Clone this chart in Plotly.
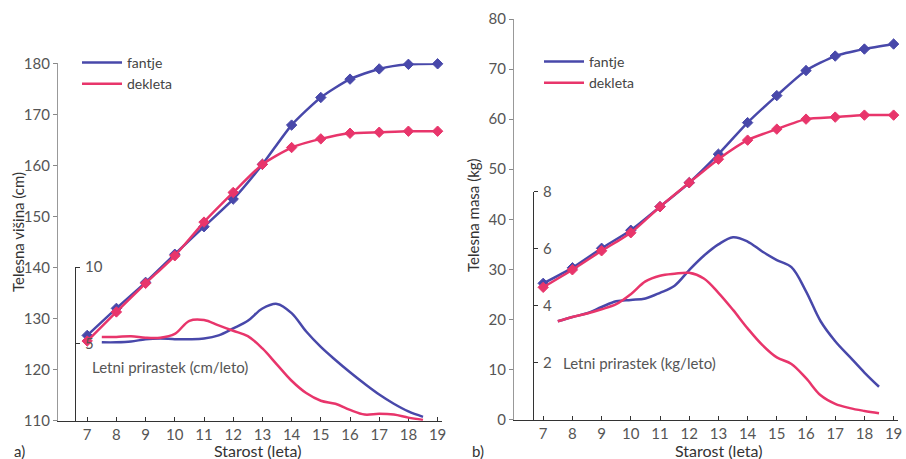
import plotly.graph_objects as go

# ---------------- data ----------------
ages = [7, 8, 9, 10, 11, 12, 13, 14, 15, 16, 17, 18, 19]
boys_height = [126.7, 132.0, 137.1, 142.6, 148.0, 153.4, 160.2, 167.9, 173.3, 176.9, 178.9, 179.8, 179.9]
girls_height = [125.6, 131.3, 136.9, 142.3, 148.9, 154.7, 160.2, 163.5, 165.2, 166.3, 166.5, 166.7, 166.7]
boys_weight = [27.2, 30.3, 34.2, 37.8, 42.5, 47.3, 53.0, 59.3, 64.7, 69.7, 72.6, 74.0, 75.0]
girls_weight = [26.4, 29.9, 33.7, 37.3, 42.5, 47.3, 52.0, 55.8, 58.0, 60.0, 60.4, 60.8, 60.8]

growth_ages = [7.5, 8, 8.5, 9, 9.5, 10, 10.5, 11, 11.5, 12, 12.5, 13, 13.5,
               14, 14.5, 15, 15.5, 16, 16.5, 17, 17.5, 18, 18.5]
boys_height_gain = [5.1, 5.1, 5.15, 5.3, 5.35, 5.3, 5.3, 5.35, 5.55, 6.0, 6.5, 7.3, 7.6,
                    7.0, 5.8, 4.8, 3.95, 3.15, 2.4, 1.7, 1.1, 0.6, 0.25]
girls_height_gain = [5.45, 5.45, 5.5, 5.4, 5.4, 5.65, 6.5, 6.55, 6.2, 5.85, 5.5, 4.7, 3.65,
                     2.6, 1.8, 1.3, 1.1, 0.7, 0.4, 0.45, 0.4, 0.2, 0.05]
boys_weight_gain = [3.45, 3.6, 3.73, 3.95, 4.15, 4.2, 4.25, 4.45, 4.7, 5.25, 5.75, 6.15, 6.4,
                    6.25, 5.9, 5.6, 5.35, 4.5, 3.45, 2.75, 2.2, 1.65, 1.15]
girls_weight_gain = [3.45, 3.6, 3.72, 3.87, 4.05, 4.4, 4.85, 5.05, 5.12, 5.15, 4.95, 4.45, 3.85,
                     3.2, 2.62, 2.18, 1.95, 1.45, 0.85, 0.55, 0.4, 0.3, 0.22]

height_ticks = [110, 120, 130, 140, 150, 160, 170, 180]
weight_ticks = [0, 10, 20, 30, 40, 50, 60, 70, 80]
height_gain_ticks = [5, 10]
weight_gain_ticks = [2, 4, 6, 8]

label_boys = "fantje"
label_girls = "dekleta"

BLUE = "#4848aa"
RED = "#e8356b"
FONT = "Lato"
W, H = 906, 459

fig = go.Figure()

def height_trace(x, y, color, xa, ya):
    return go.Scatter(x=x, y=y, xaxis=xa, yaxis=ya, mode="lines+markers",
                      line=dict(color=color, width=2.5, shape="spline", smoothing=0.6),
                      marker=dict(symbol="diamond", size=8, color=color,
                                  line=dict(color=color, width=1)),
                      cliponaxis=False, showlegend=False, hoverinfo="x+y")

def gain_trace(x, y, color, xa, ya, name, legend):
    return go.Scatter(x=x, y=y, xaxis=xa, yaxis=ya, mode="lines", name=name,
                      line=dict(color=color, width=2.5, shape="spline", smoothing=1.0),
                      cliponaxis=False, showlegend=True, legend=legend)

# left panel
fig.add_trace(gain_trace(growth_ages, boys_height_gain, BLUE, "x", "y3", label_boys, "legend"))
fig.add_trace(gain_trace(growth_ages, girls_height_gain, RED, "x", "y3", label_girls, "legend"))
fig.add_trace(height_trace(ages, boys_height, BLUE, "x", "y"))
fig.add_trace(height_trace(ages, girls_height, RED, "x", "y"))
# right panel
fig.add_trace(gain_trace(growth_ages, boys_weight_gain, BLUE, "x2", "y4", label_boys, "legend2"))
fig.add_trace(gain_trace(growth_ages, girls_weight_gain, RED, "x2", "y4", label_girls, "legend2"))
fig.add_trace(height_trace(ages, boys_weight, BLUE, "x2", "y2"))
fig.add_trace(height_trace(ages, girls_weight, RED, "x2", "y2"))

def px_x(p):
    return p / W

def px_y(p):
    return (H - p) / H

tickfont = dict(family=FONT, size=15, color="#555")

xcommon = dict(range=[6, 19.15], tickvals=ages, ticks="inside", ticklen=4, tickcolor="#333",
               showline=True, linecolor="#333", linewidth=1, showgrid=False, zeroline=False,
               tickfont=tickfont, fixedrange=True, automargin=False)
ycommon = dict(ticks="outside", ticklen=4, tickcolor="#888", showline=True, linecolor="#999",
               linewidth=1.2, showgrid=False, zeroline=False, tickfont=tickfont, fixedrange=True,
               automargin=False)
y2common = dict(anchor="free", side="right", ticks="outside", ticklen=4, tickcolor="#333",
                showline=True, linecolor="#333", linewidth=1, showgrid=False, zeroline=False,
                tickfont=tickfont, fixedrange=True, ticklabelstandoff=2, automargin=False)

fig.update_layout(
    width=W, height=H,
    margin=dict(l=0, r=0, t=0, b=0, pad=0, autoexpand=False),
    paper_bgcolor="white", plot_bgcolor="rgba(0,0,0,0)",
    font=dict(family=FONT, size=15, color="#333"),
    xaxis=dict(domain=[px_x(58), px_x(442)], anchor="y", **xcommon),
    xaxis2=dict(domain=[px_x(514), px_x(898)], anchor="y2", **xcommon),
    yaxis=dict(domain=[px_y(420.7), px_y(63.3)], anchor="x", range=[110, 180],
               tickvals=height_ticks, **ycommon),
    yaxis2=dict(domain=[px_y(419.5), px_y(19)], anchor="x2", range=[0, 80],
                tickvals=weight_ticks, **ycommon),
    yaxis3=dict(domain=[px_y(420.7), px_y(267)], position=px_x(75), range=[0, 10],
                tickvals=height_gain_ticks, **y2common),
    yaxis4=dict(domain=[px_y(419.5), px_y(191.7)], position=px_x(533), range=[0, 8],
                tickvals=weight_gain_ticks, **y2common),
    legend=dict(x=px_x(77), y=px_y(47), xanchor="left", yanchor="top",
                bgcolor="rgba(0,0,0,0)", font=dict(family=FONT, size=14, color="#444"),
                tracegroupgap=0, itemwidth=40),
    legend2=dict(x=px_x(539), y=px_y(46), xanchor="left", yanchor="top",
                 bgcolor="rgba(0,0,0,0)", font=dict(family=FONT, size=14, color="#444"),
                 tracegroupgap=0, itemwidth=40),
    showlegend=True,
)

def ann(text, x, y, size=15, color="#333", xanchor="center", textangle=0):
    fig.add_annotation(text=text, x=px_x(x), y=px_y(y), xref="paper", yref="paper",
                       showarrow=False, xanchor=xanchor, yanchor="middle", textangle=textangle,
                       font=dict(family=FONT, size=size, color=color))

ann("Starost (leta)", 257, 450, size=16)
ann("Starost (leta)", 718, 450, size=16)
ann("Telesna višina (cm)", 18, 232, textangle=-90)
ann("Telesna masa (kg)", 473, 215, textangle=-90)
ann("a)", 12, 451, xanchor="left")
ann("b)", 470, 451, xanchor="left")
ann("Letni prirastek (cm/leto)", 90, 367, color="#555", xanchor="left")
ann("Letni prirastek (kg/leto)", 561, 363, color="#555", xanchor="left")

fig.write_html("out.html")
